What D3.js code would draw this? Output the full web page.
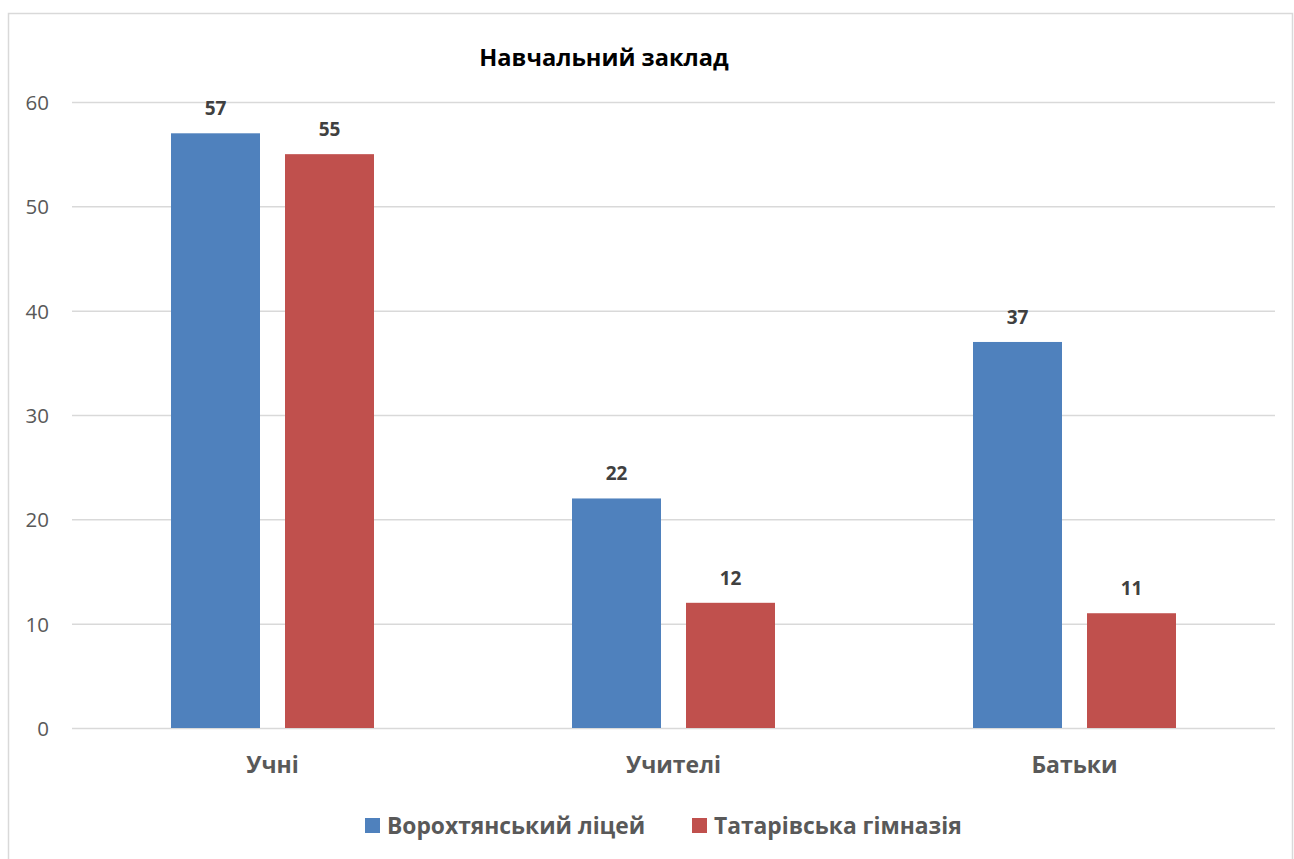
<!DOCTYPE html>
<html>
<head>
<meta charset="utf-8">
<script src="https://cdn.jsdelivr.net/npm/d3@7/dist/d3.min.js"></script>
<style>
  html, body { margin: 0; padding: 0; background: #fff; }
  svg text { font-family: "Open Sans", Lato, "DejaVu Sans", sans-serif; }
</style>
</head>
<body>
<svg id="chart" width="1294" height="859"></svg>
<script>
const categories = ["Учні", "Учителі", "Батьки"];
const seriesNames = ["Ворохтянський ліцей", "Татарівська гімназія"];
const seriesColors = ["#4f81bd", "#c0504d"];
const vorokhtaValues = [57, 22, 37];
const tatarivValues = [55, 12, 11];
const yTicks = [0, 10, 20, 30, 40, 50, 60];
const chartTitle = "Навчальний заклад";

const seriesValues = [vorokhtaValues, tatarivValues];

const svg = d3.select("#chart");
const plot = { left: 72, right: 1275, top: 102, bottom: 728 };

// Outer chart frame
svg.append("rect")
  .attr("x", 8.5).attr("y", 13.5)
  .attr("width", 1284).attr("height", 860)
  .attr("fill", "#fff")
  .attr("stroke", "#d9d9d9").attr("stroke-width", 1.5);

const x0 = d3.scaleBand()
  .domain(categories)
  .range([plot.left, plot.right])
  .paddingInner(0).paddingOuter(0);

const y = d3.scaleLinear()
  .domain([0, 60])
  .range([plot.bottom, plot.top]);

// Two bars per category: 99px side margins, 89px bars, 25px gap (in a 401px band)
const bw = x0.bandwidth();
const x1 = d3.scaleBand()
  .domain(seriesNames)
  .range([bw * 99 / 401, bw * (99 + 89 + 25 + 89) / 401])
  .paddingInner(25 / 114)
  .paddingOuter(0);

// Gridlines and value axis
const yAxis = d3.axisLeft(y).tickValues(yTicks).tickSize(-(plot.right - plot.left)).tickPadding(23);
const gy = svg.append("g")
  .attr("transform", `translate(${plot.left},0)`)
  .call(yAxis);
gy.select(".domain").remove();
gy.selectAll(".tick line").attr("stroke", "#d9d9d9").attr("stroke-width", 1.5);
gy.selectAll(".tick text")
  .attr("fill", "#595959")
  .attr("font-size", 20.5)
  .attr("text-anchor", "end")
  .attr("dy", "0.36em");

// Bars
const groups = svg.append("g").selectAll("g")
  .data(categories)
  .join("g")
  .attr("transform", d => `translate(${x0(d)},0)`);

const cells = (c, i) => seriesNames.map((s, k) => ({ s, k, v: seriesValues[k][i] }));

groups.selectAll("rect")
  .data(cells)
  .join("rect")
  .attr("x", d => x1(d.s))
  .attr("width", x1.bandwidth())
  .attr("y", d => y(d.v))
  .attr("height", d => y(0) - y(d.v))
  .attr("fill", d => seriesColors[d.k]);

// Value labels
groups.selectAll("text.val")
  .data(cells)
  .join("text")
  .attr("class", "val")
  .attr("x", d => x1(d.s) + x1.bandwidth() / 2)
  .attr("y", d => y(d.v) - 18)
  .attr("text-anchor", "middle")
  .attr("font-size", 19)
  .attr("font-weight", "bold")
  .attr("fill", "#404040")
  .text(d => d.v);

// Category labels
const xAxis = d3.axisBottom(x0).tickSize(0).tickPadding(0);
const gx = svg.append("g")
  .attr("transform", `translate(0,${plot.bottom})`)
  .call(xAxis);
gx.select(".domain").remove();
gx.selectAll(".tick text")
  .attr("y", 45)
  .attr("dy", null)
  .attr("fill", "#595959")
  .attr("font-size", 23)
  .attr("font-weight", "bold");

// Title
svg.append("text")
  .attr("x", 604).attr("y", 66)
  .attr("text-anchor", "middle")
  .attr("font-size", 23.6)
  .attr("font-weight", "bold")
  .attr("fill", "#000")
  .text(chartTitle);

// Legend
const legendX = [365, 692];
const legend = svg.append("g");
const legendItems = legend.selectAll("g")
  .data(seriesNames)
  .join("g")
  .attr("transform", (d, i) => `translate(${legendX[i]},818)`);
legendItems.append("rect")
  .attr("x", 0).attr("y", 0)
  .attr("width", 15).attr("height", 15)
  .attr("fill", (d, i) => seriesColors[i]);
legendItems.append("text")
  .attr("x", 22).attr("y", 16)
  .attr("font-size", 22.8)
  .attr("font-weight", "bold")
  .attr("fill", "#595959")
  .text(d => d);
</script>
</body>
</html>
